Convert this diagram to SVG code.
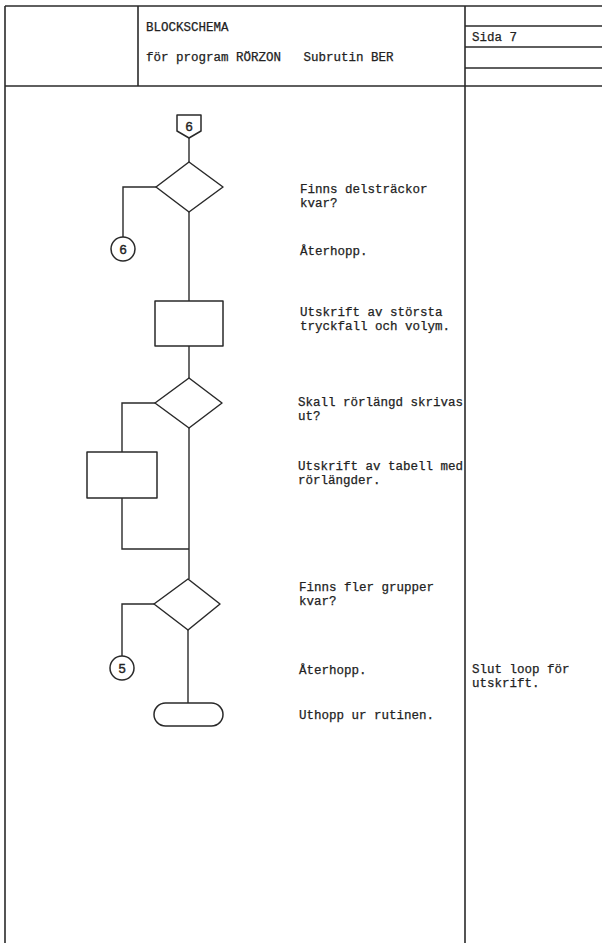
<svg xmlns="http://www.w3.org/2000/svg" width="602" height="943" viewBox="0 0 602 943">
  <style>
    .frame { fill: none; stroke: #2a2a2a; stroke-width: 1.6; }
    .shape { fill: none; stroke: #2a2a2a; stroke-width: 1.5; stroke-linejoin: round; }
    .wire { fill: none; stroke: #2a2a2a; stroke-width: 1.4; }
    .t { font-family: "Liberation Mono", "Courier New", monospace; font-size: 12.5px; fill: #222; stroke: #222; stroke-width: 0.25; white-space: pre; }
    .num { font-family: "Liberation Sans", Arial, sans-serif; font-size: 13px; fill: #222; text-anchor: middle; stroke: #222; stroke-width: 0.4; }
  </style>

  <rect x="0" y="0" width="602" height="943" fill="#ffffff"/>

  <!-- form frame: header block and body columns -->
  <g id="form">
    <line class="frame" x1="5" y1="6" x2="602" y2="6"/>
    <line class="frame" x1="5" y1="6" x2="5" y2="943"/>
    <line class="frame" x1="138" y1="6" x2="138" y2="86"/>
    <line class="frame" x1="465" y1="6" x2="465" y2="943"/>
    <line class="frame" x1="465" y1="26" x2="602" y2="26"/>
    <line class="frame" x1="465" y1="47" x2="602" y2="47"/>
    <line class="frame" x1="465" y1="68" x2="602" y2="68"/>
    <line class="frame" x1="5" y1="86" x2="602" y2="86"/>
    <text class="t" x="146" y="31">BLOCKSCHEMA</text>
    <text class="t" x="146" y="61">för program RÖRZON   Subrutin BER</text>
    <text class="t" x="472" y="41">Sida 7</text>
  </g>

  <!-- connectors -->
  <g id="connectors">
    <polyline class="wire" points="189,138 189,162"/>
    <polyline class="wire" points="156,187 123,187 123,237"/>
    <polyline class="wire" points="189,212 189,301"/>
    <polyline class="wire" points="189,346 189,378"/>
    <polyline class="wire" points="155,403 122,403 122,452"/>
    <polyline class="wire" points="122,498 122,549 189,549"/>
    <polyline class="wire" points="189,428 189,579"/>
    <polyline class="wire" points="154,604 122,604 122,656"/>
    <polyline class="wire" points="188,630 188,703"/>
  </g>

  <g id="entry6">
    <polygon class="shape" points="177,115 201,115 201,131 189,138 177,131"/>
    <text class="num" x="189" y="131">6</text>
  </g>

  <g id="decision1">
    <polygon class="shape" points="189,162 223,187 189,212 156,187"/>
    <text class="t" x="300" y="193">Finns delsträckor</text>
    <text class="t" x="300" y="207">kvar?</text>
  </g>

  <g id="jump6">
    <circle class="shape" cx="123" cy="249" r="12"/>
    <text class="num" x="123" y="254">6</text>
    <text class="t" x="300" y="255">Återhopp.</text>
  </g>

  <g id="print1">
    <rect class="shape" x="155" y="301" width="68" height="45"/>
    <text class="t" x="300" y="316">Utskrift av största</text>
    <text class="t" x="300" y="330">tryckfall och volym.</text>
  </g>

  <g id="decision2">
    <polygon class="shape" points="189,378 222,403 189,428 155,403"/>
    <text class="t" x="298" y="406">Skall rörlängd skrivas</text>
    <text class="t" x="298" y="420">ut?</text>
  </g>

  <g id="print2">
    <rect class="shape" x="87" y="452" width="70" height="46"/>
    <text class="t" x="298" y="470">Utskrift av tabell med</text>
    <text class="t" x="298" y="484">rörlängder.</text>
  </g>

  <g id="decision3">
    <polygon class="shape" points="188,579 220,604 188,630 154,604"/>
    <text class="t" x="299" y="591">Finns fler grupper</text>
    <text class="t" x="299" y="605">kvar?</text>
  </g>

  <g id="jump5">
    <circle class="shape" cx="122" cy="668" r="12"/>
    <text class="num" x="122" y="673">5</text>
    <text class="t" x="299" y="674">Återhopp.</text>
    <text class="t" x="472" y="673">Slut loop för</text>
    <text class="t" x="472" y="687">utskrift.</text>
  </g>

  <g id="exit">
    <rect class="shape" x="154" y="703" width="69" height="23" rx="11.5" ry="11.5"/>
    <text class="t" x="299" y="719">Uthopp ur rutinen.</text>
  </g>
</svg>
